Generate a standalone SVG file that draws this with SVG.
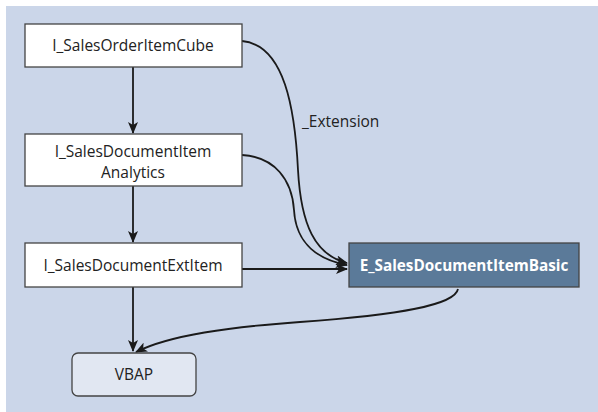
<svg xmlns="http://www.w3.org/2000/svg" width="598" height="412" viewBox="0 0 598 412">
<style>
.node{fill:#ffffff;stroke:#444;stroke-width:1.3}
.txt{font-family:"Open Sans","Noto Sans",sans-serif;font-size:15.5px;fill:#222;text-anchor:middle}
.conn{fill:none;stroke:#1a1a1a;stroke-width:1.8}
</style>
<defs>
<marker id="ah" markerWidth="12" markerHeight="10" refX="11" refY="5" orient="auto" markerUnits="userSpaceOnUse">
<path d="M0,0 L12,5 L0,10 L3,5 Z" fill="#1a1a1a"/>
</marker>
</defs>
<rect x="0" y="0" width="598" height="412" fill="#ffffff"/>
<rect x="6" y="6" width="592" height="406" fill="#cbd6e9"/>
<g id="connectors">
<path class="conn" d="M133,67 L133,133" marker-end="url(#ah)"/>
<path class="conn" d="M133,186 L133,242" marker-end="url(#ah)"/>
<path class="conn" d="M133,287 L133,351" marker-end="url(#ah)"/>
<path class="conn" d="M242,41 C285,45 295,110 298,170 C301,225 315,255 347,263" marker-end="url(#ah)"/>
<path class="conn" d="M242,155 C275,157 292,180 294,210 C296,245 320,260 347,265" marker-end="url(#ah)"/>
<path class="conn" d="M242,269 L347,269" marker-end="url(#ah)"/>
<path class="conn" d="M458,289 C455,305 400,315 300,322 C230,327 170,335 136,352" marker-end="url(#ah)"/>
<text x="302" y="127" class="txt" style="text-anchor:start">_Extension</text>
</g>
<g id="n1">
<rect class="node" x="25" y="24" width="217" height="43"/>
<text class="txt" x="133" y="50.5">I_SalesOrderItemCube</text>
</g>
<g id="n2">
<rect class="node" x="25" y="134" width="217" height="52"/>
<text class="txt" x="133" y="157">I_SalesDocumentItem</text>
<text class="txt" x="133" y="178">Analytics</text>
</g>
<g id="n3">
<rect class="node" x="25" y="243" width="217" height="44"/>
<text class="txt" x="133" y="270.5">I_SalesDocumentExtItem</text>
</g>
<g id="n4">
<rect x="349" y="243" width="230" height="44" fill="#5b7a99" stroke="#444" stroke-width="1.3"/>
<text class="txt" x="464" y="270.5" style="fill:#ffffff;font-weight:bold;font-size:15.3px">E_SalesDocumentItemBasic</text>
</g>
<g id="n5">
<rect x="72" y="353" width="124" height="43" rx="6" fill="#e1e7f2" stroke="#444" stroke-width="1.3"/>
<text class="txt" x="134" y="380">VBAP</text>
</g>
</svg>
